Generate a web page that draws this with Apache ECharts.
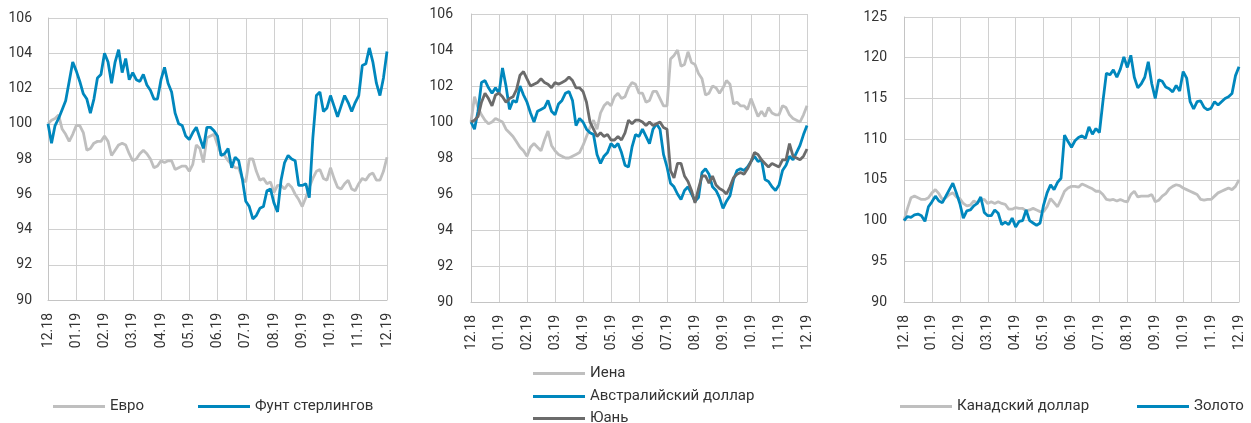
<!DOCTYPE html>
<html>
<head>
<meta charset="utf-8">
<script src="https://cdn.jsdelivr.net/npm/echarts@6/dist/echarts.min.js"></script>
<style>
  html, body { margin: 0; padding: 0; background: #fff; }
  #chart { width: 1251px; height: 423px; }
</style>
</head>
<body>
<div id="chart"></div>
<script>
// month labels, 8 sampling steps per month
const months = ['12.18', '01.19', '02.19', '03.19', '04.19', '05.19', '06.19', '07.19', '08.19', '09.19', '10.19', '11.19', '12.19']
const stepsPerMonth = 8

// panel 1
const euro = [100.0, 100.2, 100.3, 100.5, 99.7, 99.4, 99.0, 99.4, 99.9, 99.9, 99.5, 98.5, 98.6, 98.9, 99.0, 99.0, 99.3, 99.0, 98.2, 98.5,
  98.8, 98.9, 98.8, 98.3, 97.9, 98.0, 98.3, 98.5, 98.3, 98.0, 97.5, 97.6, 97.9, 97.8, 97.9, 97.9, 97.4, 97.5, 97.6, 97.6,
  97.3, 97.7, 98.8, 98.6, 97.8, 99.2, 99.3, 99.4, 98.8,
  98.3, 98.2, 97.9, 97.7, 97.5, 97.5, 96.9, 96.7, 98.0, 98.0, 97.3, 96.8, 96.9, 96.6, 96.7, 96.1, 96.5, 96.5, 96.3, 96.6,
  96.4, 96.0, 95.7, 95.3, 95.8, 96.4, 96.9, 97.3, 97.4, 96.9, 96.8, 97.5, 96.9, 96.4, 96.3, 96.6, 96.8, 96.3, 96.2, 96.6,
  96.9, 96.8, 97.1, 97.2, 96.8, 96.8, 97.3, 98.1]
const gbp = [100.0, 98.9, 99.9, 100.3, 100.8, 101.3, 102.4, 103.5, 103.0, 102.4, 101.7, 101.4, 100.6, 101.4, 102.6, 102.8, 104.0, 103.5, 102.3, 103.5,
  104.2, 102.9, 103.7, 102.5, 102.9, 102.5, 102.4, 102.8, 102.2, 101.9, 101.4, 101.4, 102.5, 103.2, 102.3, 101.8, 100.6, 100.0, 99.9, 99.3,
  99.1, 99.5, 99.8, 99.2, 98.6, 99.8, 99.8, 99.6, 99.3,
  98.2, 98.3, 98.6, 97.5, 98.1, 97.9, 96.9, 95.6, 95.3, 94.6, 94.8, 95.2, 95.3, 96.2, 96.3, 95.5, 95.0, 96.8, 97.8, 98.2,
  98.0, 97.9, 96.5, 96.5, 96.6, 95.8, 99.2, 101.6, 101.8, 100.7, 100.9, 101.6, 101.0, 100.4, 101.0, 101.6, 101.2, 100.7, 101.2, 101.6,
  103.3, 103.4, 104.3, 103.5, 102.3, 101.6, 102.6, 104.1]

// panel 2
const jpy = [100.0, 101.4, 100.8, 100.4, 100.1, 99.9, 100.0, 100.2, 100.1, 100.0, 99.6, 99.4, 99.2, 98.9, 98.6, 98.4, 98.1, 98.6, 98.8, 98.6,
  98.4, 99.0, 99.5, 98.7, 98.4, 98.2, 98.1, 98.0, 98.0, 98.1, 98.2, 98.3, 98.7, 99.2, 99.7, 100.1, 99.6, 100.5, 100.9, 101.1,
  100.9, 101.4, 101.6, 101.3, 101.4, 101.9, 102.2, 102.1, 101.6,
  101.6, 101.1, 101.2, 101.7, 101.7, 101.3, 100.9, 100.9, 103.5, 103.7, 104.0, 103.1, 103.2, 103.9, 103.3, 103.2, 102.7, 102.4, 101.5, 101.6,
  102.0, 101.9, 101.6, 101.9, 102.3, 102.1, 101.0, 101.1, 100.9, 100.9, 100.7, 101.3, 100.8, 100.3, 100.6, 100.3, 100.8, 100.5, 100.4, 100.4,
  100.9, 100.8, 100.4, 100.2, 100.1, 100.0, 100.4, 100.9]
const aud = [100.0, 99.6, 100.6, 102.2, 102.3, 101.9, 101.6, 101.9, 101.6, 103.0, 102.0, 100.7, 101.2, 101.1, 102.0, 101.5, 101.1, 100.5, 100.0, 100.6,
  100.7, 100.8, 101.2, 100.6, 100.4, 101.0, 101.2, 101.6, 101.7, 101.2, 99.8, 100.2, 100.0, 99.6, 99.4, 99.3, 98.2, 97.7, 98.1, 98.3,
  98.8, 98.6, 98.8, 98.3, 97.6, 97.5, 98.6, 99.3, 99.2,
  99.6, 99.2, 98.8, 99.6, 99.9, 99.6, 98.2, 97.5, 96.6, 96.4, 96.0, 95.7, 96.2, 96.4, 96.0, 95.6, 95.8, 97.2, 97.4, 97.1,
  96.4, 96.2, 95.8, 95.2, 95.6, 95.9, 96.8, 97.3, 97.4, 97.3, 97.5, 97.8, 98.1, 97.8, 97.9, 96.8, 96.7, 96.4, 96.2, 96.5,
  97.3, 97.6, 98.1, 97.9, 98.3, 98.7, 99.3, 99.8]
const cny = [100.0, 100.1, 100.3, 101.1, 101.6, 101.3, 100.9, 101.5, 101.6, 101.4, 101.1, 101.3, 101.4, 101.8, 102.6, 102.8, 102.4, 102.0, 102.1, 102.2,
  102.4, 102.2, 102.1, 101.9, 102.2, 102.1, 102.2, 102.3, 102.5, 102.3, 101.9, 101.9, 101.7, 101.1, 100.0, 99.6, 99.2, 99.4, 99.2, 99.3,
  99.0, 99.0, 99.2, 99.0, 99.4, 100.1, 99.9, 100.1, 100.1,
  100.0, 99.8, 100.0, 99.8, 99.9, 100.0, 99.7, 99.6, 97.3, 96.9, 97.7, 97.7, 97.0, 96.7, 96.2, 95.5, 96.3, 97.0, 97.0, 96.6,
  97.0, 96.5, 96.3, 96.2, 96.0, 96.4, 96.9, 97.1, 97.2, 97.1, 97.4, 97.8, 98.3, 98.2, 97.9, 97.7, 97.5, 97.7, 97.6, 97.5,
  97.9, 97.9, 98.8, 98.1, 98.0, 97.9, 98.1, 98.5]

// panel 3
const cad = [100.0, 101.5, 102.8, 103.0, 102.8, 102.6, 102.6, 102.8, 103.4, 103.8, 103.3, 102.6, 102.8, 103.2, 103.4, 102.9, 102.7, 102.1, 101.8, 101.9,
  102.4, 102.2, 102.5, 102.6, 102.1, 102.3, 102.1, 102.3, 102.1, 102.0, 101.4, 101.4, 101.6, 101.5, 101.5, 101.2, 101.3, 101.5, 101.3, 101.1,
  101.1, 101.7, 102.7, 102.2, 101.7, 102.6, 103.6, 104.0, 104.2,
  104.2, 104.1, 104.5, 104.3, 104.1, 103.9, 103.6, 103.6, 103.2, 102.6, 102.5, 102.6, 102.4, 102.6, 102.4, 102.3, 103.2, 103.6, 102.9, 103.0,
  103.0, 103.0, 103.2, 102.3, 102.5, 103.0, 103.3, 103.9, 104.2, 104.4, 104.3, 104.0, 103.8, 103.6, 103.4, 103.2, 102.6, 102.5, 102.6, 102.6,
  103.0, 103.4, 103.6, 103.8, 104.0, 103.8, 104.2, 105.0]
const gold = [100.0, 100.5, 100.4, 100.7, 100.8, 100.6, 99.9, 101.7, 102.3, 103.0, 102.4, 102.2, 103.0, 103.8, 104.6, 103.4, 102.1, 100.3, 101.2, 101.3,
  101.8, 102.1, 102.9, 101.0, 100.6, 100.6, 101.3, 100.9, 99.5, 99.8, 99.5, 100.3, 99.2, 99.9, 100.0, 101.3, 100.0, 99.7, 99.4, 99.7,
  101.9, 103.4, 104.4, 103.8, 104.7, 105.2, 110.5, 109.7, 109.0,
  109.8, 110.2, 110.4, 110.1, 111.5, 110.6, 111.3, 110.8, 114.6, 118.1, 117.9, 118.5, 117.6, 118.6, 120.1, 118.8, 120.3, 117.6, 116.3, 116.8,
  117.6, 119.5, 116.8, 115.0, 117.3, 117.1, 116.4, 116.2, 115.8, 116.6, 115.9, 118.3, 117.5, 114.6, 113.7, 114.6, 114.7, 113.9, 113.6, 113.8,
  114.6, 114.2, 114.6, 115.0, 115.2, 115.6, 117.8, 118.9]

const BLUE = '#0087bd'
const LIGHT = '#bfbfbf'
const DARK = '#6b6b6b'
const TEXT = '#333333'
const FONT = 'Roboto'

const dates = []
for (let m = 0; m < months.length - 1; m++) {
  for (let k = 0; k < stepsPerMonth; k++) dates.push(months[m] + ' ' + k)
}
dates.push(months[months.length - 1] + ' 0')

const gridColor = '#d0d0d0'

function xAxis(gridIndex) {
  return {
    type: 'category', gridIndex, data: dates, boundaryGap: false,
    axisLine: { lineStyle: { color: '#c4c4c4', width: 1 } },
    axisTick: { show: false },
    axisLabel: {
      interval: stepsPerMonth - 1, rotate: 90, margin: 13,
      color: TEXT, fontSize: 14, fontFamily: FONT,
      formatter: v => v.split(' ')[0]
    },
    splitLine: { show: true, interval: stepsPerMonth - 1, lineStyle: { color: gridColor, width: 1 } }
  }
}

function yAxis(gridIndex, min, max, interval, margin) {
  return {
    type: 'value', gridIndex, min, max, interval,
    axisLine: { show: true, lineStyle: { color: '#c4c4c4', width: 1 } },
    axisTick: { show: false },
    axisLabel: { color: TEXT, fontSize: 14, fontFamily: FONT, margin },
    splitLine: { lineStyle: { color: gridColor, width: 1 } }
  }
}

function line(name, data, color, idx) {
  return {
    name, type: 'line', data, xAxisIndex: idx, yAxisIndex: idx,
    symbol: 'none', smooth: false, animation: false,
    lineStyle: { color, width: 2.8 }, itemStyle: { color }
  }
}

function legend(name, left, top) {
  return {
    data: [name], left, top, icon: 'rect', itemWidth: 52, itemHeight: 3,
    selectedMode: false,
    textStyle: { color: TEXT, fontSize: 15, fontFamily: FONT }
  }
}

const chart = echarts.init(document.getElementById('chart'), null, { renderer: 'canvas' })
chart.setOption({
  animation: false,
  grid: [
    { left: 48, right: 864, top: 18, bottom: 123 },
    { left: 471, right: 444, top: 14, bottom: 121 },
    { left: 904, right: 12, top: 17, bottom: 121 }
  ],
  xAxis: [xAxis(0), xAxis(1), xAxis(2)],
  yAxis: [yAxis(0, 90, 106, 2, 16), yAxis(1, 90, 106, 2, 18), yAxis(2, 90, 125, 5, 17)],
  legend: [
    legend('Евро', 48, 394),
    legend('Фунт стерлингов', 193, 394),
    legend('Иена', 528, 361),
    legend('Австралийский доллар', 528, 384),
    legend('Юань', 528, 406),
    legend('Канадский доллар', 895, 394),
    legend('Золото', 1132, 394)
  ],
  series: [
    line('Евро', euro, LIGHT, 0),
    line('Фунт стерлингов', gbp, BLUE, 0),
    line('Иена', jpy, LIGHT, 1),
    line('Австралийский доллар', aud, BLUE, 1),
    line('Юань', cny, DARK, 1),
    line('Канадский доллар', cad, LIGHT, 2),
    line('Золото', gold, BLUE, 2)
  ]
})
</script>
</body>
</html>
